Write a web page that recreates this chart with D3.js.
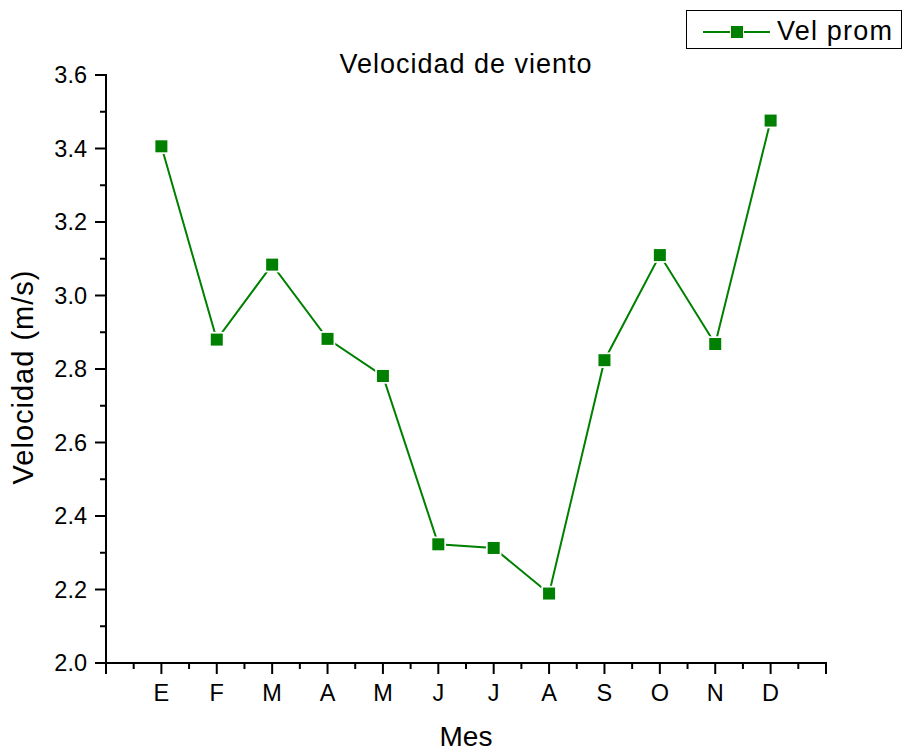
<!DOCTYPE html>
<html><head><meta charset="utf-8">
<script src="https://cdn.jsdelivr.net/npm/d3@7"></script>
<style>body{margin:0;background:#fff}svg{display:block;font-family:"Liberation Sans",Arial,sans-serif}</style>
</head><body><svg id="c" width="904" height="751"></svg>
<script>
const months = ["E","F","M","A","M","J","J","A","S","O","N","D"];
const velProm = [3.406, 2.880, 3.084, 2.882, 2.781, 2.323, 2.313, 2.189, 2.824, 3.110, 2.868, 3.476];
const yTicks = [2.0, 2.2, 2.4, 2.6, 2.8, 3.0, 3.2, 3.4, 3.6];
const seriesName = "Vel prom";
const titleText = "Velocidad de viento";
const xTitle = "Mes";
const yTitle = "Velocidad (m/s)";

const svg = d3.select("#c");
const L = 106, R = 826, T = 75, B = 663;
const green = "#008000";
const x = d3.scaleLinear().domain([0, months.length + 1]).range([L, R]);
const y = d3.scaleLinear().domain([2.0, 3.6]).range([B, T]);

// Y axis
const yAx = svg.append("g").attr("transform", `translate(${L},0)`);
yAx.append("line").attr("x1",0).attr("x2",0).attr("y1",T-1).attr("y2",B+1).attr("stroke","#000").attr("stroke-width",2);
const yMinor = d3.range(0, 8).map(i => 2.1 + i * 0.2);
yAx.selectAll(".mn").data(yMinor).join("line").attr("x1",-6).attr("x2",0)
  .attr("y1",d=>y(d)).attr("y2",d=>y(d)).attr("stroke","#000").attr("stroke-width",2);
yAx.selectAll(".mj").data(yTicks).join("line").attr("x1",-11).attr("x2",0)
  .attr("y1",d=>y(d)).attr("y2",d=>y(d)).attr("stroke","#000").attr("stroke-width",2);
yAx.selectAll(".lb").data(yTicks).join("text").attr("x",-19).attr("y",d=>y(d)).attr("dy","0.36em")
  .attr("text-anchor","end").attr("font-size",23.5).attr("fill","#000").text(d=>d.toFixed(1));

// X axis
const xAx = svg.append("g").attr("transform", `translate(0,${B})`);
xAx.append("line").attr("x1",L-1).attr("x2",R+1).attr("y1",0).attr("y2",0).attr("stroke","#000").attr("stroke-width",2);
const xMajor = d3.range(0, months.length + 2);
const xMinor = d3.range(0, months.length + 1).map(i => i + 0.5);
xAx.selectAll(".mj").data(xMajor).join("line").attr("x1",d=>x(d)).attr("x2",d=>x(d))
  .attr("y1",0).attr("y2",11).attr("stroke","#000").attr("stroke-width",2);
xAx.selectAll(".mn").data(xMinor).join("line").attr("x1",d=>x(d)).attr("x2",d=>x(d))
  .attr("y1",0).attr("y2",6).attr("stroke","#000").attr("stroke-width",2);
xAx.selectAll(".lb").data(months).join("text").attr("x",(d,i)=>x(i+1)).attr("y",38)
  .attr("text-anchor","middle").attr("font-size",23.5).attr("fill","#000").text(d=>d);

// Titles
svg.append("text").attr("x",(L+R)/2).attr("y",73).attr("text-anchor","middle")
  .attr("font-size",27).attr("letter-spacing",1).attr("fill","#000").text(titleText);
svg.append("text").attr("x",(L+R)/2).attr("y",746).attr("text-anchor","middle")
  .attr("font-size",28).attr("fill","#000").text(xTitle);
svg.append("text").attr("transform",`translate(33,377) rotate(-90)`).attr("text-anchor","middle")
  .attr("font-size",29).attr("letter-spacing",1).attr("fill","#000").text(yTitle);

// Line
const line = d3.line().x((d,i)=>x(i+1)).y(d=>y(d));
svg.append("path").datum(velProm).attr("d",line).attr("fill","none").attr("stroke",green).attr("stroke-width",2);
const ms = 12;
svg.selectAll(".pt").data(velProm).join("rect").attr("x",(d,i)=>x(i+1)-ms/2).attr("y",d=>y(d)-ms/2)
  .attr("width",ms).attr("height",ms).attr("fill",green).attr("stroke","#fff").attr("stroke-width",3.5).attr("paint-order","stroke");

// Legend
const lg = svg.append("g");
lg.append("rect").attr("x",686.5).attr("y",10.5).attr("width",215).attr("height",38)
  .attr("fill","#fff").attr("stroke","#000").attr("stroke-width",1);
lg.append("line").attr("x1",703).attr("x2",770).attr("y1",32).attr("y2",32).attr("stroke",green).attr("stroke-width",2);
lg.append("rect").attr("x",737-ms/2).attr("y",32-ms/2).attr("width",ms).attr("height",ms)
  .attr("fill",green).attr("stroke","#fff").attr("stroke-width",2).attr("paint-order","stroke");
lg.append("text").attr("x",777).attr("y",40).attr("font-size",27).attr("letter-spacing",1.2).attr("fill","#000").text(seriesName);
</script></body></html>
